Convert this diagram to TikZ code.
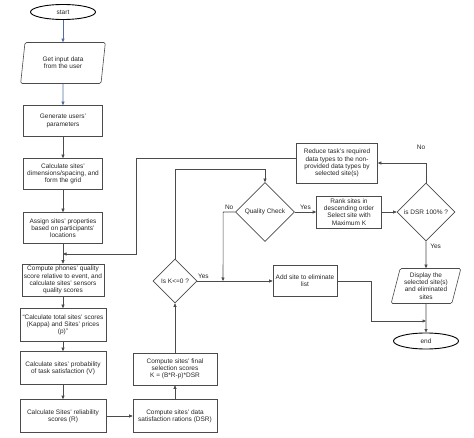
\documentclass[tikz,border=0pt]{standalone}
\usepackage{fontspec}
\setmainfont{Liberation Sans}
\usetikzlibrary{shapes.geometric,arrows.meta,positioning}
\definecolor{linegray}{RGB}{75,75,75}
\definecolor{flowblue}{RGB}{80,110,160}
\begin{document}
\begin{tikzpicture}[x=1pt, y=-1pt,
  every node/.style={font=\fontsize{6.5}{7.3}\selectfont, text=black!85, align=center},
  box/.style={draw=linegray, line width=0.6pt, rectangle, inner sep=1pt, minimum width=79pt, minimum height=31pt},
  wbox/.style={box, minimum width=86pt, minimum height=33pt},
  dec/.style={draw=linegray, line width=0.6pt, diamond, aspect=1, inner sep=0pt},
  io/.style={draw=linegray, line width=0.6pt, trapezium, trapezium stretches=true, inner sep=0pt, rounded corners=1.5pt},
  term/.style={draw=black, line width=0.9pt, ellipse, inner sep=0pt, minimum width=65pt, minimum height=15pt},
  arr/.style={draw=linegray, line width=0.6pt, -{Triangle[length=3.5pt,width=3pt]}},
  lbl/.style={inner sep=1pt}]
\useasboundingbox (0,0) rectangle (474,438);

% Nodes, left column
\node[term] (start) at (63,12) {start};
\node[io, node distance=51pt, below of=start, trapezium left angle=79, trapezium right angle=101,
  minimum width=85pt, minimum height=41pt] (input) {Get input data\\from the user};
\node[box, node distance=58pt, below of=input] (gen) {Generate users'\\parameters};
\node[box, node distance=53pt, below of=gen] (dims) {Calculate sites'\\dimensions/spacing, and\\form the grid};
\node[box, node distance=54pt, below of=dims] (assign) {Assign sites' properties\\based on participants'\\locations};
\node[box, minimum width=82pt, minimum height=32pt, node distance=52pt, below of=assign] (phones) {Compute phones' quality\\score relative to event, and\\calculate sites' sensors\\quality scores};
\node[wbox, node distance=45pt, below of=phones] (total) {“Calculate total sites' scores\\(Kappa) and Sites' prices\\(p)”};
\node[wbox, node distance=43pt, below of=total] (prob) {Calculate sites' probability\\of task satisfaction (V)};
\node[wbox, node distance=48pt, below of=prob] (rel) {Calculate Sites' reliability\\scores (R)};

% Nodes, right part
\node[box, minimum width=84pt, minimum height=33pt, node distance=112pt, right of=rel] (dsr) {Compute sites' data\\satisfaction rations (DSR)};
\node[box, minimum width=84pt, minimum height=32pt, node distance=47pt, above of=dsr] (final) {Compute sites' final\\selection scores\\K = (B*R-p)*DSR};
\node[dec, minimum size=44pt, node distance=88pt, above of=final] (kdec) {Is K<=0 ?};
\node[box, minimum width=64pt, node distance=130pt, right of=kdec] (addsite) {Add site to eliminate\\list};
\node[dec, minimum size=59pt] (qual) at (265,212) {Quality Check};
\node[box, minimum width=65pt, minimum height=32pt, node distance=84pt, right of=qual] (rank) {Rank sites in\\descending order\\Select site with\\Maximum K};
\node[dec, minimum size=58pt, node distance=77pt, right of=rank] (dsrdec) {is DSR 100\% ?};
\node[box, minimum width=81pt, minimum height=40pt] (reduce) at (337,163) {Reduce task's required\\data types to the non-\\provided data types by\\selected site(s)};
\node[io, node distance=74pt, below of=dsrdec, trapezium left angle=74, trapezium right angle=106,
  minimum width=70pt, minimum height=35pt] (display) {Display the\\selected site(s)\\and eliminated\\sites};
\node[term, minimum height=16pt, node distance=55pt, below of=display] (end) {end};

% Arrows
\draw[arr, draw=flowblue] (start) -- (input);
\draw[arr, draw=flowblue] (input) -- (gen);
\draw[arr] (gen) -- (dims);
\draw[arr] (dims) -- (assign);
\draw[arr] (assign) -- (phones);
\draw[arr] (phones) -- (total);
\draw[arr] (total) -- (prob);
\draw[arr] (prob) -- (rel);
\draw[arr] (rel) -- (dsr);
\draw[arr] (dsr) -- (final);
\draw[arr] (final) -- (kdec);
\draw[arr] (kdec.north) -- ++(0,-89) -| (qual.north);
\draw[arr] (kdec.east) -- (addsite.west) node[lbl, pos=0.08, above, yshift=1pt] {Yes};
\draw[arr] (qual.west) -- ++(-12,0) node[lbl, midway, above, yshift=1pt] {No} -- (kdec.east -| 223,0);
\draw[arr] (qual.east) -- (rank.west) node[lbl, midway, above, yshift=1pt] {Yes};
\draw[arr] (rank.east) -- (dsrdec.west);
\draw[arr] (dsrdec.north) |- (reduce.east);
\node[lbl] (nolbl) at (421,147) {No};
\draw[arr] ([yshift=5pt]reduce.west) -- ++(-160,0) -- ++(0,96) -- (phones.north |- 0,254);
\draw[arr] (dsrdec.south) -- (display.north) node[lbl, pos=0.2, right, xshift=3pt] {Yes};
\draw[arr] (display.south) -- (end.north);
\draw[arr] (addsite.east) -- ++(34,0) |- (end.north |- 0,321);

\end{tikzpicture}
\end{document}
